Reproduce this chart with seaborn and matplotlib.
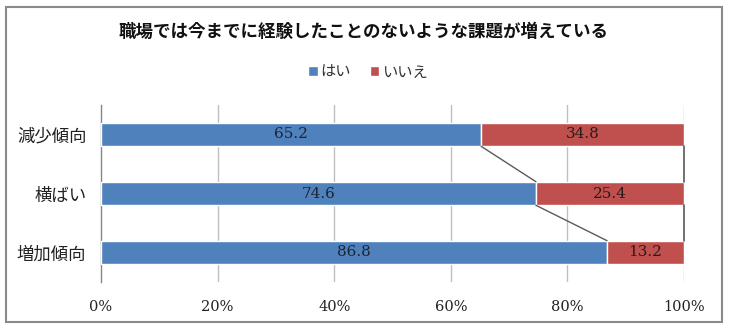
import matplotlib
matplotlib.use("Agg")
import matplotlib.pyplot as plt
from matplotlib.patches import Rectangle
import seaborn as sns
import pandas as pd

categories = ["減少傾向", "横ばい", "増加傾向"]
yes_values = [65.2, 74.6, 86.8]
no_values = [34.8, 25.4, 13.2]
series_names = ["はい", "いいえ"]
x_ticks = [0, 20, 40, 60, 80, 100]
x_tick_labels = ["0%", "20%", "40%", "60%", "80%", "100%"]
title = "職場では今までに経験したことのないような課題が増えている"

BLUE = "#4F81BD"
RED = "#C0504D"
SERIF = ["DejaVu Serif"]

sns.set_theme(style="white")
plt.rcParams["font.family"] = ["Noto Sans CJK JP", "DejaVu Sans"]

df = pd.DataFrame({"category": categories, "yes": yes_values, "no": no_values})

fig = plt.figure(figsize=(7.3, 3.31), dpi=100)
ax = fig.add_axes([101 / 730, 1 - 282 / 331, 583 / 730, 177 / 331])

bar_h = 0.4
sns.barplot(data=df, y="category", x="yes", orient="h", color=BLUE,
            width=bar_h, saturation=1, ax=ax, zorder=3, label=series_names[0])
ax.barh(range(len(categories)), df["no"], left=df["yes"], height=bar_h,
        color=RED, zorder=3, label=series_names[1])

# series lines between the stacked segments
for i in range(len(categories) - 1):
    ax.plot([yes_values[i], yes_values[i + 1]], [i + bar_h / 2, i + 1 - bar_h / 2],
            color="#5a5a5a", lw=1, zorder=4)
    tot_a = yes_values[i] + no_values[i]
    tot_b = yes_values[i + 1] + no_values[i + 1]
    ax.plot([tot_a, tot_b], [i + bar_h / 2, i + 1 - bar_h / 2],
            color="#5a5a5a", lw=1.2, zorder=4, clip_on=False)

# value labels centred in each segment
for i in range(len(categories)):
    ax.text(yes_values[i] / 2, i, f"{yes_values[i]:.1f}", ha="center", va="center",
            family=SERIF, fontsize=11, color="#1c2433", zorder=5)
    ax.text(yes_values[i] + no_values[i] / 2, i, f"{no_values[i]:.1f}", ha="center",
            va="center", family=SERIF, fontsize=11, color="#2a1a1a", zorder=5)

ax.set_xlim(0, 100)
ax.set_ylim(len(categories) - 0.5, -0.5)
ax.set_xticks(x_ticks)
ax.set_xticklabels(x_tick_labels, family=SERIF, fontsize=10.5, color="#222222")
ax.set_yticks(range(len(categories)))
ax.set_yticklabels(categories, fontsize=12.5, color="#222222")
ax.set_yticks([-0.5, 0.5, 1.5, 2.5], minor=True)
ax.tick_params(axis="y", which="major", length=0, pad=10.5)
ax.tick_params(axis="y", which="minor", length=4, width=1, color="#868686", direction="out")
ax.tick_params(axis="x", length=0, pad=13)
ax.set_xlabel("")
ax.set_ylabel("")

for x in x_ticks[1:]:
    ax.axvline(x, color="#BFBFBF", lw=1, zorder=1)
for side in ["top", "right", "bottom"]:
    ax.spines[side].set_visible(False)
ax.spines["left"].set_color("#868686")
ax.spines["left"].set_linewidth(1)

fig.text(364 / 730, 1 - 32 / 331, title, ha="center", va="center",
         fontsize=12.6, fontweight="bold", color="#111111")

handles, labels = ax.get_legend_handles_labels()
leg = fig.legend(handles, labels, loc="center", bbox_to_anchor=(368 / 730, 1 - 72 / 331),
                 ncol=2, frameon=False, fontsize=11, handlelength=0.6, handleheight=0.6,
                 handletextpad=0.2, columnspacing=1.2)
for t in leg.get_texts():
    t.set_color("#333333")
if ax.get_legend() is not None:
    ax.get_legend().remove()

fig.patches.append(Rectangle((6 / 730, 1 - 322 / 331), 716 / 730, 315 / 331,
                             transform=fig.transFigure, fill=False,
                             edgecolor="#8a8a8a", lw=1.5))

fig.savefig("out.png", dpi=100)
